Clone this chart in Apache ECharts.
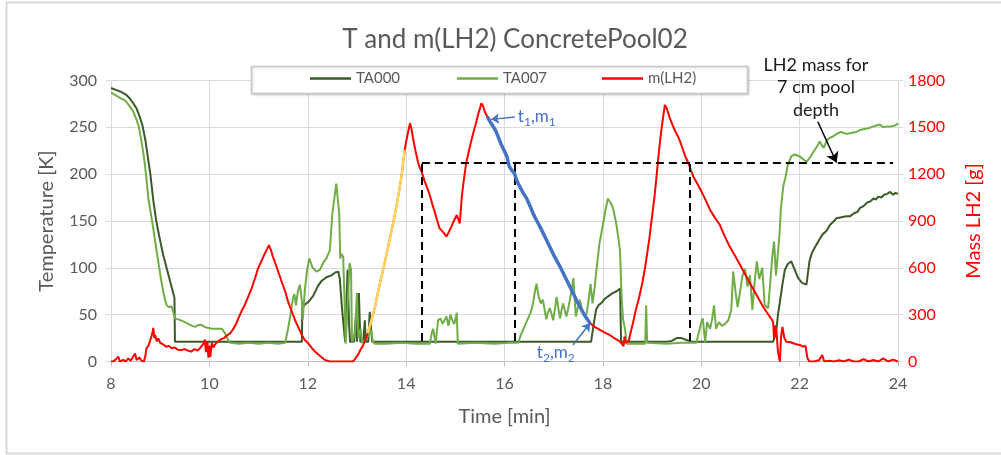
<!DOCTYPE html>
<html><head><meta charset="utf-8">
<script src="https://cdn.jsdelivr.net/npm/echarts@6/dist/echarts.min.js"></script>
<style>html,body{margin:0;padding:0;background:#fff}#c{width:1001px;height:455px}</style>
</head><body><div id="c"></div>
<script>
const TITLE = 'T and m(LH2) ConcretePool02';
const X_NAME = 'Time [min]';
const Y1_NAME = 'Temperature [K]';
const Y2_NAME = 'Mass LH2 [g]';

// [time min, temperature K]
const TA000 = [[8.00,292],[8.10,290],[8.20,288],[8.30,285],[8.38,281],[8.45,276],[8.52,270],[8.58,262],[8.64,252],[8.70,236],[8.75,218],[8.80,200],[8.86,172],[8.92,150],[8.98,134],[9.06,114],[9.12,102],[9.18,90],[9.24,78],[9.29,68],[9.30,21],[9.6,21],[9.9,21],[10.2,21],[10.5,21],[10.8,21],[11.1,21],[11.4,21],[11.7,21],[11.88,21],[11.89,58],[11.95,61],[12.02,64],[12.11,70],[12.2,80],[12.28,86],[12.38,90],[12.48,92],[12.56,95],[12.62,96],[12.65,89],[12.70,55],[12.76,21],[12.79,21],[12.81,98],[12.84,40],[12.86,21],[12.94,21],[12.98,48],[13.00,21],[13.02,21],[13.04,73],[13.07,21],[13.13,21],[13.16,44],[13.18,21],[13.23,21],[13.26,53],[13.31,21],[13.6,21],[14.0,21],[14.5,21],[15.0,21],[15.5,21],[16.0,21],[16.5,21],[17.0,21],[17.5,21],[17.76,21],[17.8,35],[17.86,55],[17.91,60],[17.98,63],[18.04,67],[18.12,70],[18.2,73],[18.28,75],[18.35,78],[18.37,21],[18.6,21],[19.0,21],[19.3,21],[19.4,22],[19.5,25],[19.6,25],[19.7,23],[19.8,21],[20.2,21],[20.6,21],[21.0,21],[21.46,21],[21.52,30],[21.56,50],[21.6,64],[21.65,82],[21.7,98],[21.76,104],[21.83,107],[21.9,98],[21.97,89],[22.05,84],[22.14,82],[22.17,95],[22.2,107],[22.25,116],[22.3,121],[22.4,130],[22.47,136],[22.54,139],[22.62,146],[22.7,150],[22.75,153],[22.85,154],[22.95,155],[23.02,155],[23.1,158],[23.18,160],[23.23,164],[23.3,166],[23.38,170],[23.44,171],[23.5,174],[23.55,173],[23.6,176],[23.66,175],[23.72,178],[23.78,179],[23.84,181],[23.9,178],[23.95,180],[24.0,179]];

const TA007 = [[8.00,287],[8.10,284],[8.20,281],[8.28,279],[8.36,274],[8.45,267],[8.52,258],[8.56,252],[8.62,235],[8.66,222],[8.69,210],[8.73,190],[8.76,174],[8.81,158],[8.86,142],[8.91,124],[8.96,107],[9.01,90],[9.06,75],[9.1,66],[9.13,60],[9.18,58],[9.23,59],[9.27,52],[9.30,46],[9.36,45],[9.42,44],[9.5,42],[9.58,40],[9.65,38],[9.71,37],[9.78,39],[9.84,39],[9.9,37],[9.96,36],[10.05,35],[10.15,35],[10.25,35],[10.32,30],[10.37,24],[10.42,20],[10.6,19],[10.8,20],[11.0,19],[11.2,20],[11.4,19],[11.54,20],[11.6,35],[11.65,50],[11.7,68],[11.73,72],[11.76,60],[11.8,75],[11.84,82],[11.88,65],[11.9,45],[11.94,76],[11.98,95],[12.03,110],[12.1,100],[12.18,96],[12.25,98],[12.32,106],[12.38,110],[12.45,119],[12.5,158],[12.58,190],[12.64,158],[12.66,110],[12.68,115],[12.72,112],[12.75,62],[12.77,19],[12.81,60],[12.85,105],[12.88,98],[12.9,20],[12.96,30],[13.0,73],[13.03,25],[13.08,35],[13.1,20],[13.15,22],[13.2,25],[13.29,34],[13.32,22],[13.36,19],[13.6,19],[13.9,20],[14.2,19],[14.48,19],[14.52,30],[14.55,35],[14.6,19],[14.65,44],[14.7,46],[14.74,40],[14.78,42],[14.82,48],[14.86,38],[14.9,50],[14.94,44],[14.98,40],[15.03,52],[15.05,19],[15.4,20],[15.8,19],[16.1,20],[16.28,20],[16.33,28],[16.38,34],[16.43,40],[16.48,46],[16.53,52],[16.58,62],[16.62,75],[16.65,83],[16.7,68],[16.74,62],[16.78,66],[16.82,54],[16.85,45],[16.88,52],[16.92,57],[16.96,50],[16.99,44],[17.03,58],[17.06,69],[17.1,55],[17.13,46],[17.16,55],[17.19,62],[17.23,54],[17.26,48],[17.3,58],[17.33,66],[17.37,78],[17.4,89],[17.45,48],[17.49,58],[17.53,66],[17.58,55],[17.62,50],[17.67,51],[17.71,66],[17.75,83],[17.79,62],[17.83,78],[17.87,98],[17.93,126],[17.97,137],[18.0,146],[18.04,158],[18.1,174],[18.15,170],[18.2,165],[18.27,148],[18.33,126],[18.35,117],[18.38,70],[18.41,45],[18.45,35],[18.48,19],[18.86,19],[18.88,60],[18.9,20],[19.3,19],[19.6,20],[19.9,20],[19.97,35],[20.0,42],[20.03,46],[20.08,21],[20.12,42],[20.18,35],[20.22,45],[20.26,60],[20.3,35],[20.36,42],[20.42,38],[20.48,40],[20.55,44],[20.61,55],[20.65,96],[20.7,73],[20.74,58],[20.77,58],[20.84,92],[20.89,99],[20.94,80],[20.99,92],[21.04,55],[21.08,82],[21.13,107],[21.18,88],[21.24,100],[21.29,60],[21.36,57],[21.4,82],[21.44,110],[21.48,128],[21.52,92],[21.59,135],[21.62,164],[21.67,188],[21.71,196],[21.76,210],[21.83,219],[21.9,221],[21.94,222],[22.0,219],[22.07,216],[22.14,213],[22.2,217],[22.26,222],[22.31,226],[22.36,230],[22.41,235],[22.45,231],[22.49,228],[22.53,233],[22.57,237],[22.62,239],[22.67,240],[22.75,243],[22.84,245],[22.95,243],[23.05,244],[23.15,245],[23.22,247],[23.29,248],[23.4,249],[23.5,251],[23.56,252],[23.63,253],[23.7,250],[23.78,251],[23.86,251],[23.94,252],[24.0,254]];

// [time min, mass g]
const MLH2 = [[8.0,0],[8.05,0],[8.1,15],[8.15,31],[8.18,0],[8.25,10],[8.3,0],[8.35,20],[8.4,5],[8.45,30],[8.49,52],[8.52,10],[8.58,25],[8.62,5],[8.67,0],[8.7,40],[8.72,84],[8.76,100],[8.79,127],[8.82,159],[8.84,180],[8.86,215],[8.88,150],[8.9,170],[8.93,130],[8.96,148],[9.0,120],[9.06,110],[9.12,95],[9.18,100],[9.23,85],[9.3,90],[9.36,75],[9.43,73],[9.5,80],[9.56,70],[9.63,63],[9.7,80],[9.76,70],[9.82,90],[9.87,110],[9.91,140],[9.93,60],[9.96,125],[9.98,25],[10.0,100],[10.02,30],[10.05,120],[10.08,90],[10.11,106],[10.16,125],[10.2,118],[10.25,145],[10.3,150],[10.35,165],[10.42,180],[10.48,205],[10.54,240],[10.59,277],[10.65,320],[10.72,362],[10.79,415],[10.86,469],[10.93,535],[10.99,597],[11.06,645],[11.13,693],[11.18,725],[11.21,746],[11.25,715],[11.29,672],[11.33,639],[11.4,575],[11.47,511],[11.54,450],[11.6,383],[11.67,325],[11.74,266],[11.8,225],[11.88,170],[11.94,138],[12.0,120],[12.05,100],[12.1,80],[12.15,63],[12.25,35],[12.35,10],[12.45,0],[12.6,0],[12.75,0],[12.92,0],[12.97,20],[13.02,42],[13.08,80],[13.12,100],[13.16,127],[13.2,165],[13.22,181],[13.29,260],[13.36,341],[13.46,490],[13.57,639],[13.67,790],[13.77,938],[13.84,1060],[13.91,1195],[13.97,1355],[14.0,1408],[14.04,1470],[14.08,1526],[14.11,1490],[14.14,1430],[14.19,1350],[14.24,1280],[14.27,1248],[14.32,1210],[14.38,1152],[14.43,1110],[14.48,1067],[14.53,1010],[14.58,960],[14.63,905],[14.68,853],[14.72,840],[14.76,825],[14.82,800],[14.87,830],[14.92,864],[14.97,900],[15.03,938],[15.06,910],[15.09,885],[15.11,960],[15.13,1050],[15.16,1131],[15.19,1200],[15.22,1270],[15.27,1340],[15.32,1408],[15.37,1470],[15.42,1526],[15.47,1590],[15.5,1620],[15.53,1654],[15.56,1640],[15.6,1600],[15.65,1568],[15.7,1540],[15.75,1515],[15.8,1490],[15.83,1472],[15.87,1440],[15.92,1400],[15.97,1366],[16.01,1340],[16.05,1312],[16.08,1270],[16.1,1248],[16.15,1225],[16.2,1206],[16.25,1160],[16.31,1120],[16.38,1080],[16.45,1045],[16.52,995],[16.58,949],[16.65,905],[16.72,864],[16.82,800],[16.92,735],[17.02,670],[17.13,607],[17.23,543],[17.33,479],[17.43,415],[17.53,351],[17.63,295],[17.74,245],[17.84,220],[17.94,202],[18.04,185],[18.14,170],[18.24,148],[18.35,127],[18.42,99],[18.44,160],[18.46,120],[18.5,110],[18.53,135],[18.56,180],[18.61,245],[18.67,330],[18.74,415],[18.8,500],[18.85,586],[18.9,690],[18.95,800],[19.0,930],[19.05,1056],[19.1,1215],[19.15,1376],[19.2,1510],[19.26,1643],[19.3,1620],[19.36,1560],[19.43,1504],[19.48,1470],[19.53,1440],[19.58,1400],[19.63,1355],[19.68,1310],[19.74,1270],[19.79,1225],[19.84,1184],[19.9,1150],[19.97,1110],[20.08,1040],[20.18,971],[20.28,920],[20.38,874],[20.48,800],[20.58,735],[20.68,680],[20.79,618],[20.89,560],[20.99,501],[21.1,440],[21.2,383],[21.28,340],[21.37,298],[21.42,275],[21.46,255],[21.48,149],[21.5,230],[21.53,190],[21.56,60],[21.6,0],[21.62,150],[21.65,221],[21.69,150],[21.73,127],[21.8,125],[21.87,117],[21.93,110],[22.0,106],[22.07,95],[22.12,100],[22.16,20],[22.2,0],[22.3,0],[22.4,10],[22.46,42],[22.5,0],[22.6,5],[22.7,0],[22.8,8],[22.9,0],[23.0,12],[23.1,0],[23.2,0],[23.3,15],[23.4,0],[23.5,10],[23.6,0],[23.7,20],[23.8,0],[23.9,12],[24.0,0]];

const YELLOW_RANGE = [13.22, 13.97];   // filling segment
const BLUE_RANGE = [15.65, 17.74];     // t1,m1 -> t2,m2 segment
const POOL_MASS = 1270;                // LH2 mass for 7 cm pool depth
const POOL_TIMES = [14.32, 16.21, 19.77];
const POOL_LINE_END = 23.9;
const DROP_BOTTOM = 131;
const ARROW_T1 = [[16.21, 1566], [15.73, 1551]];
const ARROW_T2 = [[17.39, 106], [17.74, 245]];
const ARROW_POOL = [[22.37, 1536], [22.75, 1275]];
const NOTE_LINES = ['LH2 mass for', '7 cm pool', 'depth'];

const FONT = 'Lato';
const GRAY = '#595959';
const C_TA000 = '#3a5a27', C_TA007 = '#70ad47', C_RED = '#ff0000', C_BLUE = '#4472c4', C_YEL = '#ffd45e';

const inRange = (r) => MLH2.filter(p => p[0] >= r[0] && p[0] <= r[1]);
const seg = (a, b, extra) => [Object.assign({coord: a}, extra || {}), {coord: b}];

const chart = echarts.init(document.getElementById('c'), null, {renderer: 'canvas'});
const option = {
  animation: false,
  backgroundColor: '#fff',
  title: {text: TITLE, left: 510, top: 22, textAlign: 'center',
    textStyle: {fontFamily: FONT, fontSize: 26, fontWeight: 'normal', color: GRAY}},
  grid: {left: 111, right: 103, top: 80.5, bottom: 93.5},
  legend: [
    {data: ['TA000'], left: 310, top: 71},
    {data: ['TA007'], left: 457, top: 71},
    {data: ['m(LH2)'], left: 602, top: 71}
  ].map(l => Object.assign(l, {padding: 0, icon: 'rect', itemWidth: 41, itemHeight: 2.5, itemGap: 0, z: 6,
      textStyle: {fontFamily: FONT, fontSize: 15, color: GRAY, padding: [0, 0, 0, 0]}})),
  xAxis: {type: 'value', min: 8, max: 24, interval: 2,
    name: X_NAME, nameLocation: 'middle', nameGap: 45,
    nameTextStyle: {fontFamily: FONT, fontSize: 20, color: GRAY},
    axisLine: {show: true, onZero: false, lineStyle: {color: '#bfbfbf', width: 1}},
    axisTick: {show: true, length: 5, lineStyle: {color: '#bfbfbf'}},
    axisLabel: {fontFamily: FONT, fontSize: 16, color: GRAY, margin: 14},
    splitLine: {show: true, lineStyle: {color: '#d9d9d9', width: 1}}},
  yAxis: [
    {type: 'value', min: 0, max: 300, interval: 50, position: 'left',
      name: Y1_NAME, nameLocation: 'middle', nameGap: 54, nameRotate: 90,
      nameTextStyle: {fontFamily: FONT, fontSize: 20, color: GRAY},
      axisLine: {show: false}, axisTick: {show: true, length: 5, lineStyle: {color: '#d9d9d9'}},
      axisLabel: {fontFamily: FONT, fontSize: 16, color: GRAY, margin: 14},
      splitLine: {show: true, lineStyle: {color: '#d9d9d9', width: 1}}},
    {type: 'value', min: 0, max: 1800, interval: 300, position: 'right',
      name: Y2_NAME, nameLocation: 'middle', nameGap: 66, nameRotate: 90,
      nameTextStyle: {fontFamily: FONT, fontSize: 20, color: C_RED},
      axisLine: {show: false}, axisTick: {show: true, length: 5, lineStyle: {color: '#d9d9d9'}},
      axisLabel: {fontFamily: FONT, fontSize: 16, color: C_RED, margin: 10, formatter: (v) => String(v)},
      splitLine: {show: false}}
  ],
  series: [
    {name: 'TA000', type: 'line', data: TA000, yAxisIndex: 0, showSymbol: false, symbol: 'none',
      lineStyle: {color: C_TA000, width: 2}, itemStyle: {color: C_TA000}, z: 2},
    {name: 'TA007', type: 'line', data: TA007, yAxisIndex: 0, showSymbol: false, symbol: 'none',
      lineStyle: {color: C_TA007, width: 2}, itemStyle: {color: C_TA007}, z: 3},
    {name: 'm(LH2)', type: 'line', data: MLH2, yAxisIndex: 1, showSymbol: false, symbol: 'none',
      lineStyle: {color: C_RED, width: 2}, itemStyle: {color: C_RED}, z: 4},
    {name: 'fill', type: 'line', data: inRange(YELLOW_RANGE), yAxisIndex: 1, symbol: 'none',
      lineStyle: {color: C_YEL, width: 2.5}, z: 5},
    {name: 'evap', type: 'line', data: inRange(BLUE_RANGE), yAxisIndex: 1, symbol: 'none',
      lineStyle: {color: C_BLUE, width: 3.5}, z: 5,
      markLine: {silent: true, symbol: ['none', 'arrow'], symbolSize: 8, label: {show: false},
        lineStyle: {color: C_BLUE, width: 1.5, type: 'solid'}, emphasis: {disabled: true},
        data: [seg(ARROW_T1[0], ARROW_T1[1]), seg(ARROW_T2[0], ARROW_T2[1])]}},
    {name: 'pool', type: 'line', data: [], yAxisIndex: 1, symbol: 'none', z: 7,
      markLine: {silent: true, symbol: 'none', label: {show: false}, emphasis: {disabled: true},
        lineStyle: {color: '#000', width: 2, type: [8, 5]},
        data: [seg([POOL_TIMES[0], POOL_MASS], [POOL_LINE_END, POOL_MASS])]
          .concat(POOL_TIMES.map(t => seg([t, DROP_BOTTOM], [t, POOL_MASS])))}},
    {name: 'poolArrow', type: 'line', data: [], yAxisIndex: 1, symbol: 'none', z: 7,
      markLine: {silent: true, symbol: ['none', 'arrow'], symbolSize: 10, label: {show: false}, emphasis: {disabled: true},
        lineStyle: {color: '#000', width: 1.5, type: 'solid'},
        data: [seg(ARROW_POOL[0], ARROW_POOL[1])]}}
  ],
  graphic: []
};
chart.setOption(option);

// annotation texts positioned from data coordinates
const px = (p) => chart.convertToPixel({xAxisIndex: 0, yAxisIndex: 1}, p);
const t1 = px(ARROW_T1[0]), t2 = px(ARROW_T2[0]);
const subText = (x, y, sub) => ({type: 'text', x: x, y: y, z: 8,
  style: {text: '{a|t}{b|' + sub + '}{a|,m}{b|' + sub + '}', fill: C_BLUE, verticalAlign: 'middle', align: 'left',
    rich: {a: {fontFamily: FONT, fontSize: 17, fill: C_BLUE, lineHeight: 20, verticalAlign: 'top'},
           b: {fontFamily: FONT, fontSize: 12, fill: C_BLUE, lineHeight: 20, verticalAlign: 'bottom', padding: [9, 0, 0, 0]}}}});
const g = [
  {type: 'rect', shape: {x: 6.5, y: 2.5, width: 1010, height: 451}, style: {fill: 'none', stroke: '#d9d9d9', lineWidth: 2}, z: 1, silent: true},
  {type: 'rect', shape: {x: 251.5, y: 66.5, width: 496, height: 27}, style: {fill: '#fff', stroke: '#c8c8c8', lineWidth: 1.5, shadowBlur: 2, shadowColor: 'rgba(0,0,0,0.15)', shadowOffsetX: 1, shadowOffsetY: 1}, z: 3, silent: true},
  subText(t1[0] + 3, t1[1] + 1, '1'),
  subText(t2[0] - 36, t2[1] + 9, '2')
];
NOTE_LINES.forEach((s, i) => g.push({type: 'text', x: 816, y: 65 + i * 22.5,
  style: {text: s, fill: '#1a1a1a', font: '18px ' + FONT, align: 'center', verticalAlign: 'middle'}, z: 8}));
chart.setOption({graphic: g});
</script></body></html>
